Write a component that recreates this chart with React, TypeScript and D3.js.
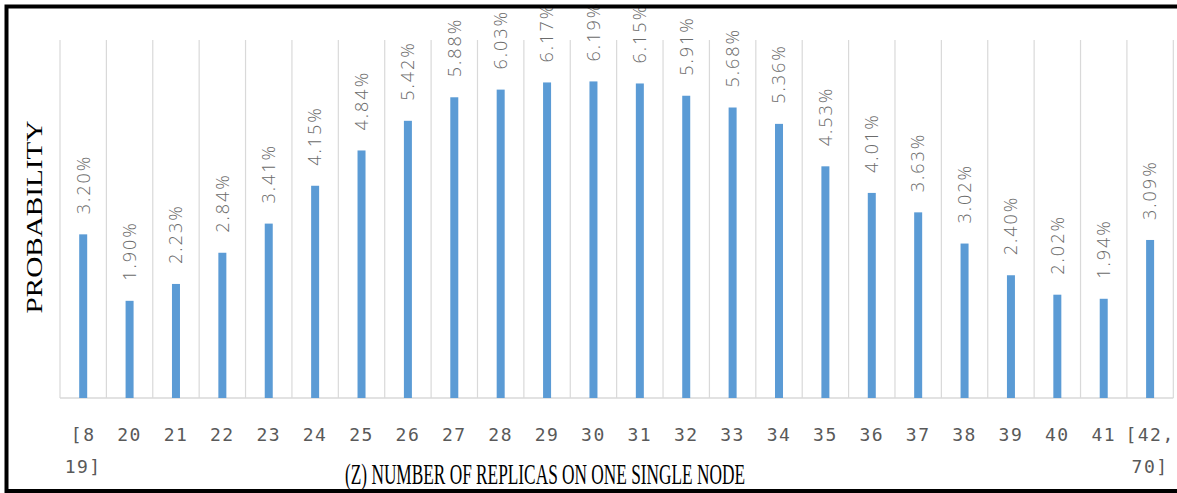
import React, { useEffect, useRef } from 'react';
import * as d3 from 'd3';

// category labels (multi-line where the original wraps)
const categories: string[][] = [
  ['[8', '19]'], ['20'], ['21'], ['22'], ['23'], ['24'], ['25'], ['26'], ['27'], ['28'],
  ['29'], ['30'], ['31'], ['32'], ['33'], ['34'], ['35'], ['36'], ['37'], ['38'],
  ['39'], ['40'], ['41'], ['[42,', '70]'],
];

// probability in percent
const probabilities: number[] = [
  3.20, 1.90, 2.23, 2.84, 3.41, 4.15, 4.84, 5.42, 5.88, 6.03, 6.17, 6.19,
  6.15, 5.91, 5.68, 5.36, 4.53, 4.01, 3.63, 3.02, 2.40, 2.02, 1.94, 3.09,
];

const App: React.FC = () => {
  const svgRef = useRef<SVGSVGElement>(null);

  useEffect(() => {
    if (!svgRef.current) return;
    const svg = d3.select(svgRef.current);
    svg.selectAll('*').remove();

    const width = 1177;
    const height = 493;
    const left = 60;
    const right = 1173.3;
    const top = 40;
    const bottom = 398;

    const keys = categories.map((_, i) => String(i));
    const x = d3.scaleBand<string>().domain(keys).range([left, right]).padding(0);
    const y = d3.scaleLinear().domain([0, 7]).range([bottom, top]);

    svg.attr('width', width).attr('height', height);

    svg.append('rect')
      .attr('x', 0).attr('y', 0).attr('width', width).attr('height', height)
      .attr('fill', '#fff');

    // vertical gridlines at category boundaries
    const bounds = keys.map(k => x(k) as number).concat([right]);
    svg.append('g')
      .selectAll('line')
      .data(bounds)
      .enter()
      .append('line')
      .attr('x1', d => d).attr('x2', d => d)
      .attr('y1', top).attr('y2', bottom)
      .attr('stroke', '#d9d9d9')
      .attr('stroke-width', 1.2);

    // baseline
    svg.append('line')
      .attr('x1', left).attr('x2', right)
      .attr('y1', bottom).attr('y2', bottom)
      .attr('stroke', '#d9d9d9')
      .attr('stroke-width', 1.5);

    const barW = 8;

    // bars
    svg.append('g')
      .selectAll('rect')
      .data(probabilities)
      .enter()
      .append('rect')
      .attr('x', (_, i) => (x(keys[i]) as number) + x.bandwidth() / 2 - barW / 2)
      .attr('y', d => y(d))
      .attr('width', barW)
      .attr('height', d => bottom - y(d))
      .attr('fill', '#5b9bd5');

    // rotated value labels
    svg.append('g')
      .selectAll('text')
      .data(probabilities)
      .enter()
      .append('text')
      .attr('transform', (d, i) => {
        const cx = (x(keys[i]) as number) + x.bandwidth() / 2;
        return `translate(${cx},${y(d) - 20}) rotate(-90)`;
      })
      .attr('dy', '0.35em')
      .attr('text-anchor', 'start')
      .attr('fill', '#6b6b6b')
      .style('font-family', '"Open Sans", sans-serif')
      .style('font-weight', 300)
      .style('font-size', '18px')
      .style('letter-spacing', '2px')
      .text(d => `${d.toFixed(2)}%`);

    // category tick labels
    const ticks = svg.append('g')
      .selectAll('text')
      .data(categories)
      .enter()
      .append('text')
      .attr('x', (_, i) => (x(keys[i]) as number) + x.bandwidth() / 2)
      .attr('y', 441)
      .attr('text-anchor', 'middle')
      .attr('fill', '#595959')
      .style('font-family', '"DejaVu Sans Mono", monospace')
      .style('font-size', '18px')
      .style('letter-spacing', '1.5px');
    ticks.each(function (lines, i) {
      const cx = (x(keys[i]) as number) + x.bandwidth() / 2;
      d3.select(this)
        .selectAll('tspan')
        .data(lines)
        .enter()
        .append('tspan')
        .attr('x', cx)
        .attr('dy', (_, j) => (j === 0 ? 0 : 32))
        .text(t => t);
    });

    // axis titles
    svg.append('text')
      .attr('x', 545)
      .attr('y', 484)
      .attr('text-anchor', 'middle')
      .attr('textLength', 400)
      .attr('lengthAdjust', 'spacingAndGlyphs')
      .attr('fill', '#000')
      .style('font-family', '"Liberation Serif", serif')
      .style('font-size', '30px')
      .text('(Z) NUMBER OF REPLICAS ON ONE SINGLE NODE');

    svg.append('text')
      .attr('transform', 'translate(42,217) rotate(-90)')
      .attr('text-anchor', 'middle')
      .attr('textLength', 193)
      .attr('lengthAdjust', 'spacingAndGlyphs')
      .attr('fill', '#000')
      .style('font-family', '"Liberation Serif", serif')
      .style('font-size', '24px')
      .text('PROBABILITY');

    // outer frame
    svg.append('rect')
      .attr('x', 6.5).attr('y', 6.5)
      .attr('width', 1185).attr('height', 484.5)
      .attr('fill', 'none')
      .attr('stroke', '#000')
      .attr('stroke-width', 4);
  }, []);

  return (
    <svg ref={svgRef} style={{ position: 'absolute', left: 0, top: 0, display: 'block' }}></svg>
  );
};

export default App;
